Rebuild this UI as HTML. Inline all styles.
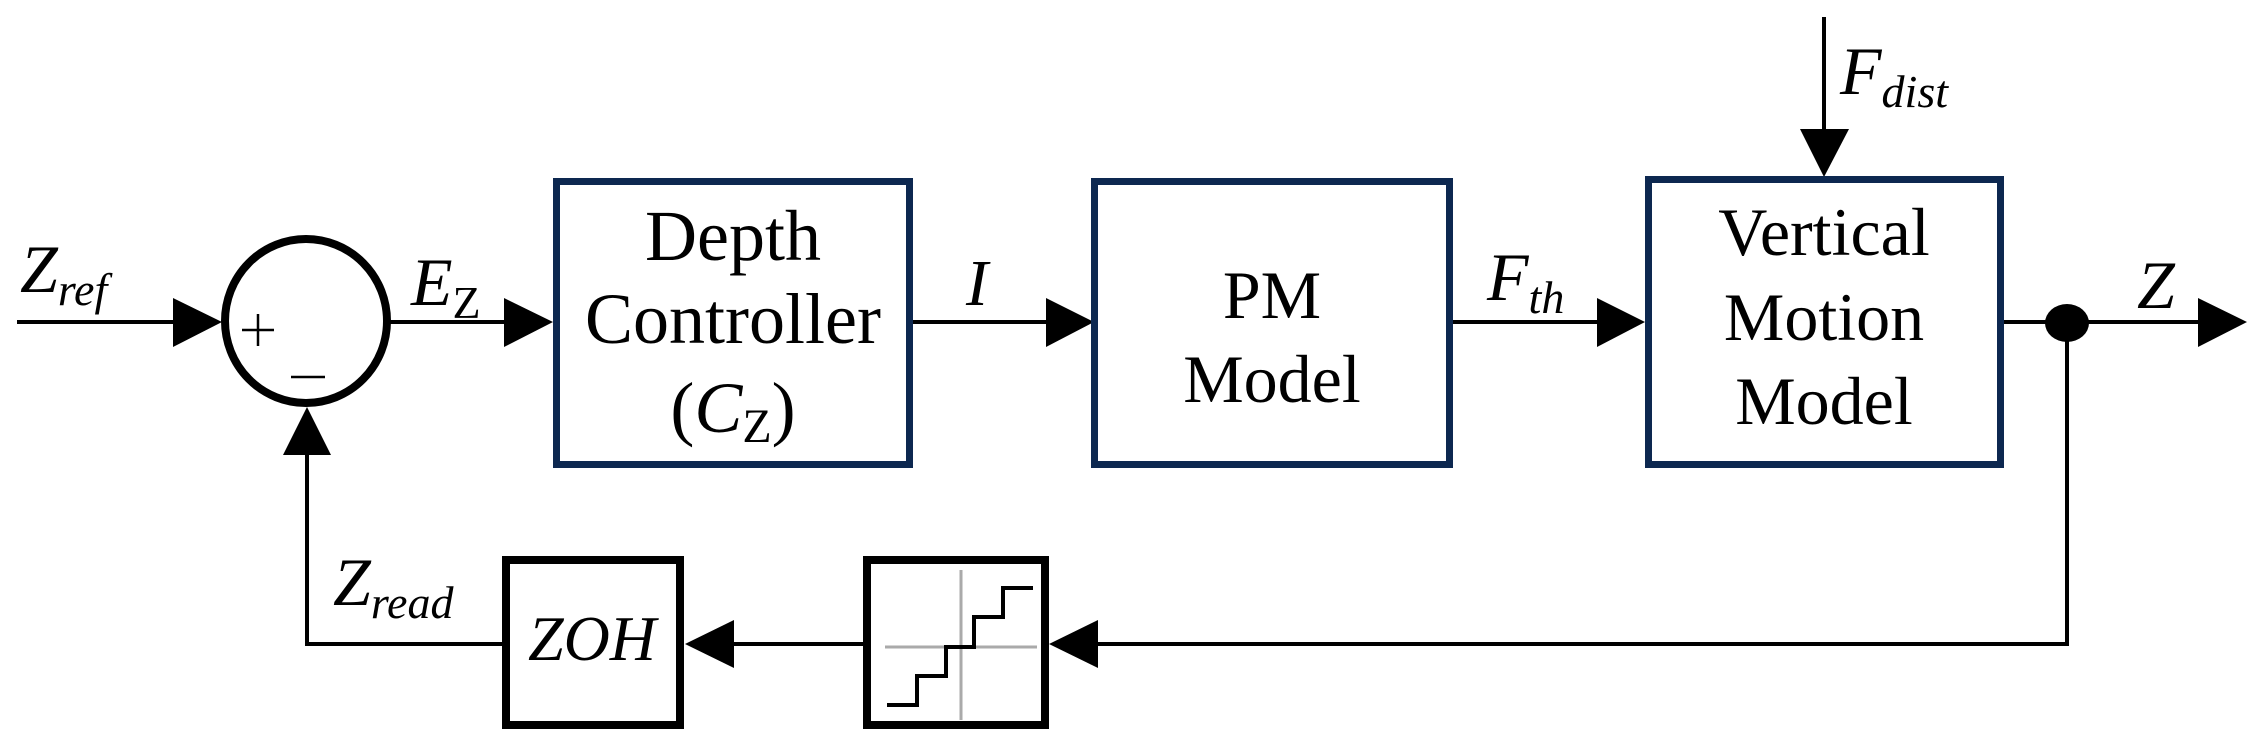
<!DOCTYPE html>
<html><head><meta charset="utf-8"><style>
html,body{margin:0;padding:0;background:#fff;}
svg{display:block;}
text{font-family:"Liberation Serif",serif;fill:#000;}
.m{font-style:italic;}
</style></head><body>
<svg width="2255" height="748" viewBox="0 0 2255 748" xmlns="http://www.w3.org/2000/svg">
<g stroke="#000" stroke-width="4" fill="none">
  <line x1="17" y1="322" x2="180" y2="322"/>
  <line x1="390" y1="322" x2="510" y2="322"/>
  <line x1="913" y1="322" x2="1052" y2="322"/>
  <line x1="1453" y1="322" x2="1600" y2="322"/>
  <line x1="2004" y1="322" x2="2200" y2="322"/>
  <line x1="1824" y1="17" x2="1824" y2="135"/>
  <polyline points="2067,322 2067,644 1094,644"/>
  <line x1="863" y1="644" x2="728" y2="644"/>
  <polyline points="502,644 307,644 307,450"/>
</g>
<g fill="#000">
  <polygon points="173,298 222,322 173,347"/>
  <polygon points="504,298 553,322 504,347"/>
  <polygon points="1046,298 1094,322 1046,347"/>
  <polygon points="1597,298 1645,322 1597,347"/>
  <polygon points="2198,298 2247,322 2198,347"/>
  <polygon points="1800,129 1849,129 1824,177"/>
  <polygon points="1098,620 1049,644 1098,668"/>
  <polygon points="734,620 685,644 734,668"/>
  <polygon points="283,455 331,455 307,407"/>
  <ellipse cx="2067" cy="323" rx="22" ry="19"/>
</g>
<ellipse cx="306" cy="321" rx="81" ry="82" fill="#fff" stroke="#000" stroke-width="8"/>
<g stroke="#000" stroke-width="2.5">
  <line x1="242" y1="330" x2="274" y2="330"/>
  <line x1="258" y1="314" x2="258" y2="346"/>
  <line x1="291" y1="377" x2="325" y2="377"/>
</g>
<g fill="#fff" stroke="#0d2850" stroke-width="7">
  <rect x="556.5" y="181.5" width="353" height="283"/>
  <rect x="1094.5" y="181.5" width="355" height="283"/>
  <rect x="1648.5" y="179.5" width="352" height="285"/>
</g>
<g fill="#fff" stroke="#000" stroke-width="8">
  <rect x="506" y="560" width="174" height="165"/>
  <rect x="867" y="560" width="178" height="165"/>
</g>
<g stroke="#aaa" stroke-width="3">
  <line x1="961" y1="570" x2="961" y2="720"/>
  <line x1="885" y1="647" x2="1037" y2="647"/>
</g>
<polyline points="887,705 917,705 917,676 946,676 946,647 974,647 974,617 1003,617 1003,588 1033,588" fill="none" stroke="#000" stroke-width="4"/>

<g font-size="72" text-anchor="middle">
  <text x="733" y="260">Depth</text>
  <text x="733" y="343">Controller</text>
  <text x="733" y="432">(<tspan class="m">C</tspan><tspan font-size="48" dy="10">Z</tspan><tspan dy="-10">)</tspan></text>
</g>
<g font-size="68" text-anchor="middle">
  <text x="1272" y="318">PM</text>
  <text x="1272" y="402">Model</text>
  <text x="1824" y="255">Vertical</text>
  <text x="1824" y="340">Motion</text>
  <text x="1824" y="424">Model</text>
</g>
<text x="592" y="660" font-size="64" class="m" text-anchor="middle">ZOH</text>
<text x="20" y="292" font-size="68" class="m">Z<tspan font-size="46" dy="13">ref</tspan></text>
<text x="411" y="305" font-size="68" class="m">E<tspan font-size="46" dy="13" font-style="normal">Z</tspan></text>
<text x="966" y="305" font-size="66" class="m">I</text>
<text x="1487" y="300" font-size="68" class="m">F<tspan font-size="46" dy="13">th</tspan></text>
<text x="1840" y="94" font-size="68" class="m">F<tspan font-size="46" dy="13">dist</tspan></text>
<text x="2137" y="308" font-size="68" class="m">Z</text>
<text x="333" y="605" font-size="68" class="m">Z<tspan font-size="46" dy="13">read</tspan></text>
</svg>
</body></html>
